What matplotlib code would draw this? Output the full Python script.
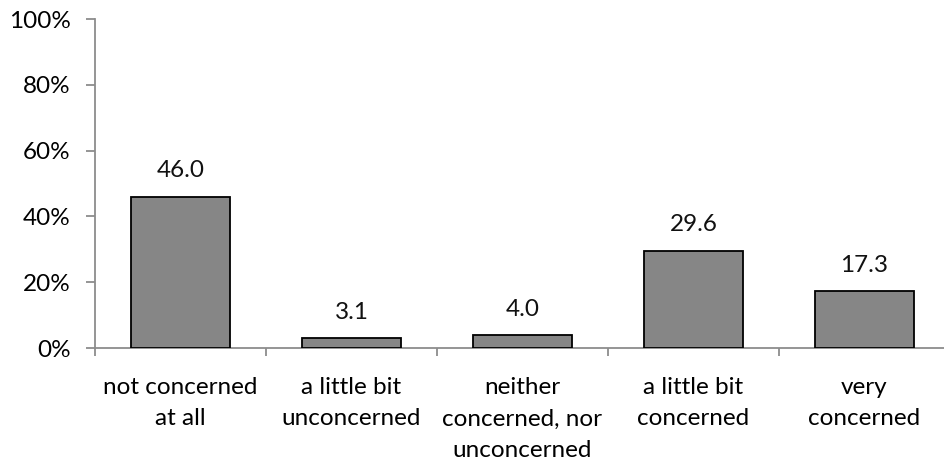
import matplotlib
matplotlib.use("Agg")
import matplotlib.pyplot as plt
import numpy as np

categories = ["not concerned\nat all", "a little bit\nunconcerned",
              "neither\nconcerned, nor\nunconcerned", "a little bit\nconcerned",
              "very\nconcerned"]
values = [46.0, 3.1, 4.0, 29.6, 17.3]
yticks = [0, 20, 40, 60, 80, 100]
ytick_labels = ["0%", "20%", "40%", "60%", "80%", "100%"]

plt.rcParams['font.family'] = ['Lato', 'DejaVu Sans']

fig = plt.figure(figsize=(9.45, 4.65), dpi=100)
ax = fig.add_axes([95/945, 1-348/465, 855/945, (348-19)/465])

x = np.arange(len(categories))
bars = ax.bar(x, values, width=0.575, color="#868686", edgecolor="black", linewidth=1.3, zorder=3)
for xi, v in zip(x, values):
    ax.annotate(f"{v:.1f}", (xi, v), xytext=(0, 11), textcoords="offset points",
                ha="center", va="bottom", fontsize=17.5, color="#111111")

ax.set_xlim(-0.5, len(categories) - 0.5)
ax.set_ylim(0, 100)
ax.set_yticks(yticks)
ax.set_yticklabels(ytick_labels, fontsize=17.5)
ax.set_xticks(x)
ax.set_xticklabels(categories, fontsize=17.5, linespacing=1.6)
ax.set_xticks(np.arange(len(categories) + 1) - 0.5, minor=True)

for s in ["top", "right"]:
    ax.spines[s].set_visible(False)
for s in ["left", "bottom"]:
    ax.spines[s].set_color("#8c8c8c")
    ax.spines[s].set_linewidth(1.3)

ax.tick_params(axis="y", direction="out", length=6.5, width=1.3, color="#8c8c8c", pad=11)
ax.tick_params(axis="x", which="major", length=0, pad=21)
ax.tick_params(axis="x", which="minor", direction="out", length=6, width=1.3, color="#8c8c8c")

fig.savefig("out.png", dpi=100)
